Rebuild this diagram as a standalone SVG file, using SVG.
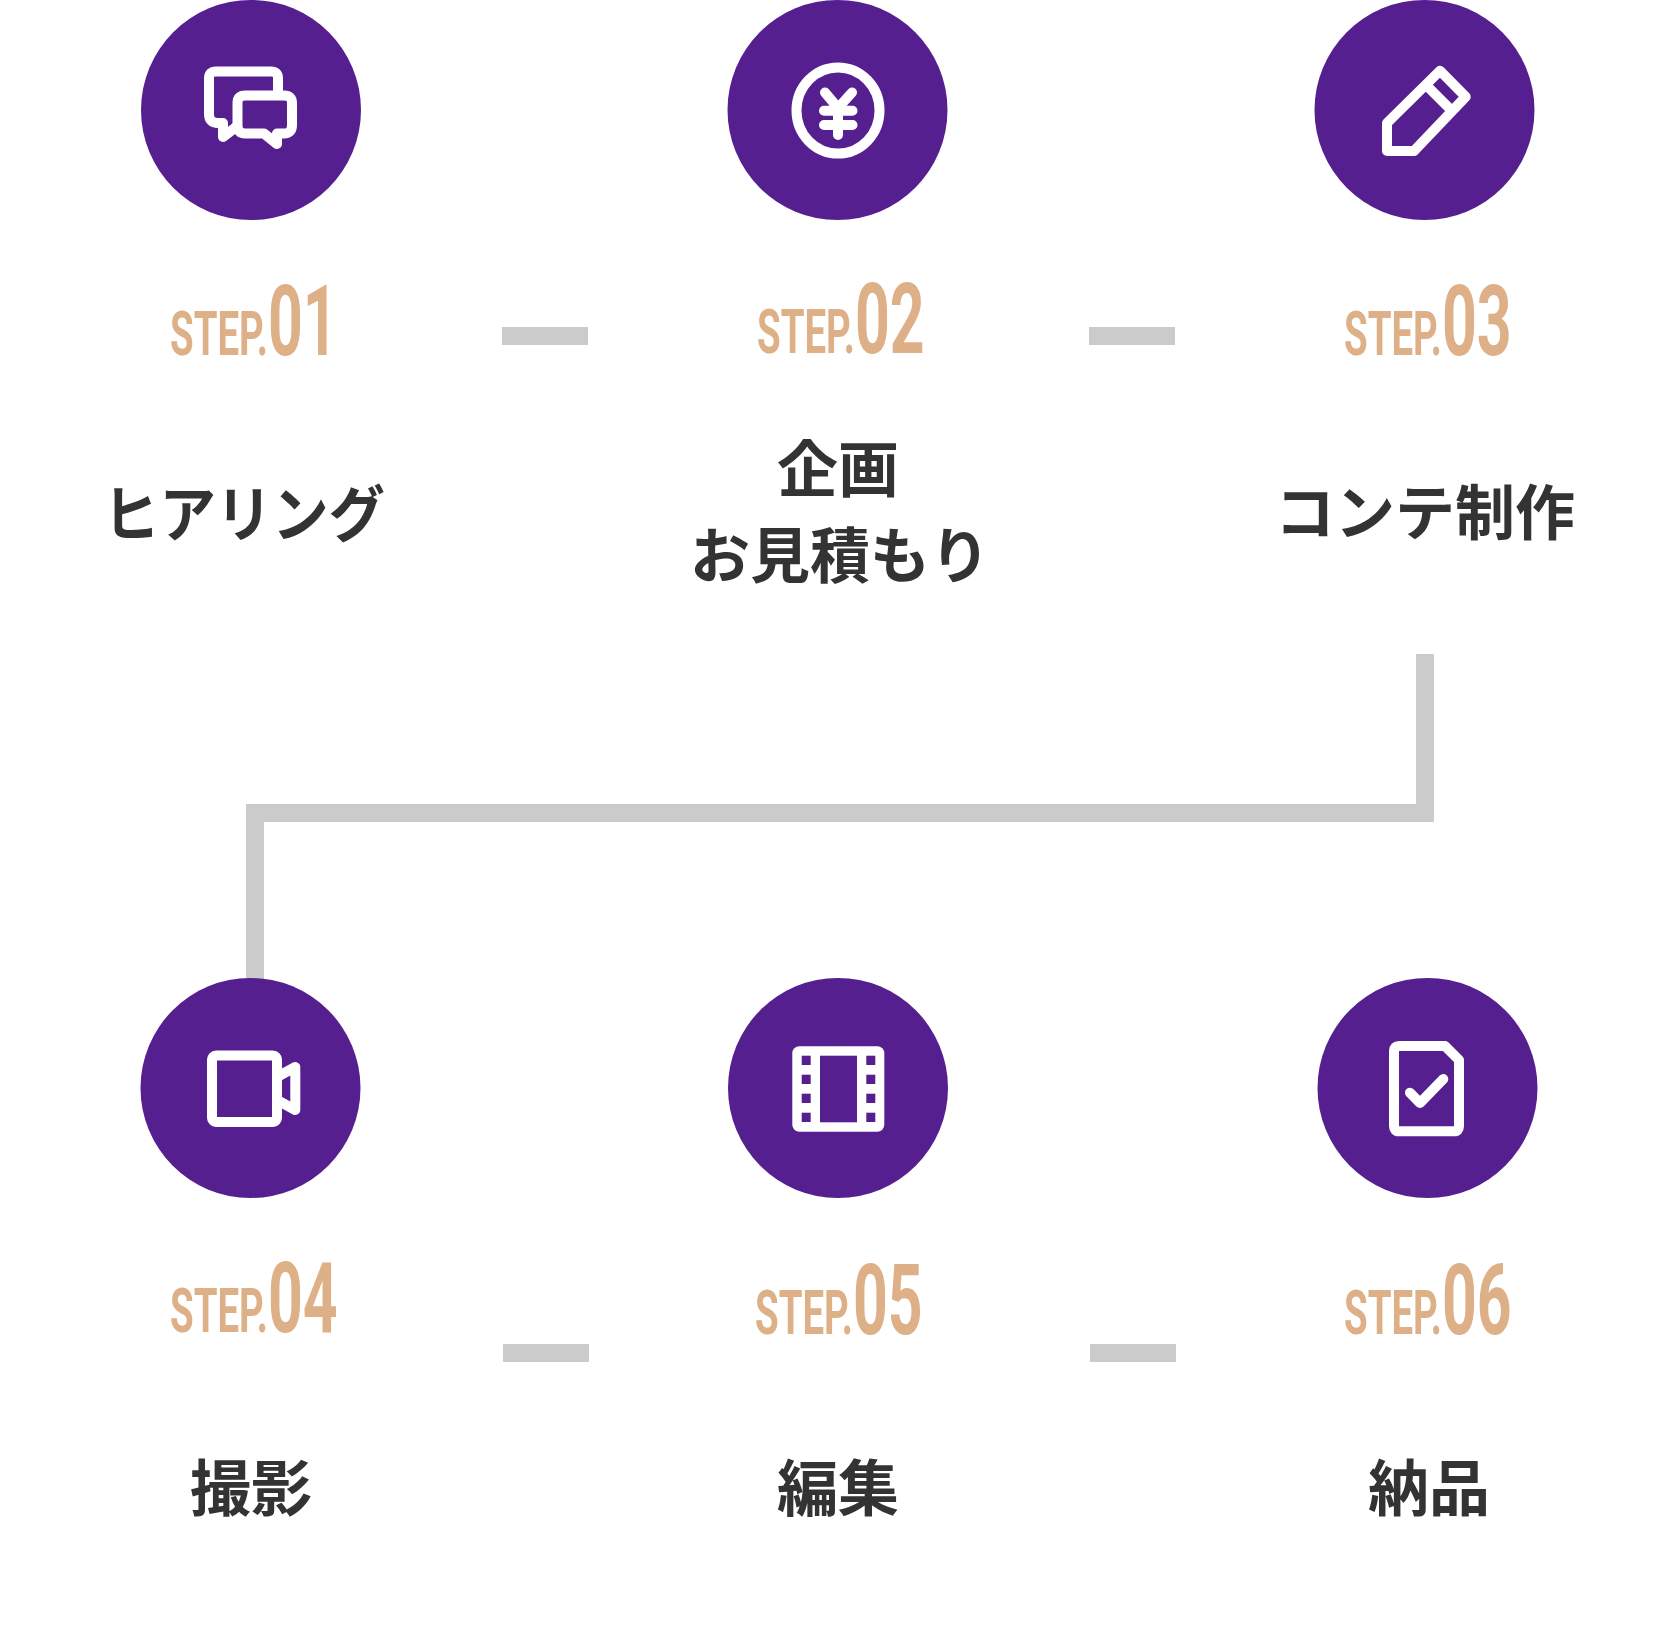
<svg xmlns="http://www.w3.org/2000/svg" width="1678" height="1632" viewBox="0 0 1678 1632">
<style>
.disc{fill:#561f8f}
.ic{fill:none;stroke:#fff;stroke-width:10;stroke-linejoin:round;stroke-linecap:round}
.hole{fill:#561f8f}
.st{font-family:Roboto,"Liberation Sans",sans-serif;font-weight:700;font-size:62px;fill:#deb088}
.num{font-size:98px}
.lb{font-family:"Noto Sans CJK JP",sans-serif;font-weight:700;font-size:61px;fill:#333;text-anchor:middle}
.lk{font-size:60px}
.cn{fill:#cbcbcb}
</style>
<rect width="1678" height="1632" fill="#fff"/>
<g id="connectors">
<rect class="cn" x="502" y="327" width="86" height="18"/>
<rect class="cn" x="1089" y="327" width="86" height="18"/>
<path class="cn" d="M1416 654H1434V822H264V980H246V804H1416Z"/>
<rect class="cn" x="503" y="1344" width="86" height="18"/>
<rect class="cn" x="1090" y="1344" width="86" height="18"/>
</g>
<g id="step1">
<circle class="disc" cx="251" cy="110" r="110"/>
<path class="ic" d="M278 90V78Q278 71.500 271 71.500H216Q209 71.500 209 78V114Q209 123 218 123H223V137L236 127"/>
<path class="ic" d="M245 95.500H284Q292 95.500 292 103V125Q292 133.500 284 133.500H277V144L264 133.500H245Q237.500 133.500 237.500 125V103Q237.500 95.500 245 95.500Z"/>
<text class="st" transform="translate(170,355) scale(.62,1)">STEP.<tspan class="num">01</tspan></text>
<text class="lb" x="244" y="537" textLength="282" lengthAdjust="spacingAndGlyphs">ヒアリング</text>
</g>
<g id="step2">
<circle class="disc" cx="837.500" cy="110" r="110"/>
<ellipse class="ic" cx="838" cy="110.500" rx="41.500" ry="43"/>
<path class="ic" d="M825 92.500L838 108L852 92.500M824 110.700H852.500M824 125H852.500M838 108V135"/>
<text class="st" transform="translate(757,353) scale(.62,1)">STEP.<tspan class="num">02</tspan></text>
<text class="lb" x="838" y="492">企画</text>
<text class="lb lk" x="840" y="578">お見積もり</text>
</g>
<g id="step3">
<circle class="disc" cx="1424.500" cy="110" r="110"/>
<path class="ic" d="M1387 123L1440 70.700L1465.700 96.700L1414 151H1387ZM1428.300 87.300L1449.300 108.300"/>
<text class="st" transform="translate(1344,355) scale(.62,1)">STEP.<tspan class="num">03</tspan></text>
<text class="lb lk" x="1425" y="535">コンテ制作</text>
</g>
<g id="step4">
<circle class="disc" cx="250.500" cy="1088" r="110"/>
<rect class="ic" x="212" y="1055.500" width="65" height="66.500" rx="4"/>
<path class="ic" d="M277 1077L295.300 1067V1110L277 1100"/>
<text class="st" transform="translate(170,1332) scale(.62,1)">STEP.<tspan class="num">04</tspan></text>
<text class="lb" x="251" y="1511">撮影</text>
</g>
<g id="step5">
<circle class="disc" cx="838" cy="1088" r="110"/>
<rect x="792.300" y="1046.300" width="92" height="85.400" rx="7" fill="#fff"/>
<rect class="hole" x="820" y="1055.700" width="37" height="66.600"/>
<rect class="hole" x="801.700" y="1055.700" width="9" height="9.300"/>
<rect class="hole" x="801.700" y="1074.700" width="9" height="9.300"/>
<rect class="hole" x="801.700" y="1093.700" width="9" height="9.300"/>
<rect class="hole" x="801.700" y="1112.700" width="9" height="9.300"/>
<rect class="hole" x="866.300" y="1055.700" width="9" height="9.300"/>
<rect class="hole" x="866.300" y="1074.700" width="9" height="9.300"/>
<rect class="hole" x="866.300" y="1093.700" width="9" height="9.300"/>
<rect class="hole" x="866.300" y="1112.700" width="9" height="9.300"/>
<text class="st" transform="translate(755,1334) scale(.62,1)">STEP.<tspan class="num">05</tspan></text>
<text class="lb" x="838" y="1511">編集</text>
</g>
<g id="step6">
<circle class="disc" cx="1427.500" cy="1088" r="110"/>
<path class="ic" d="M1399 1046H1445L1459 1060V1126Q1459 1131.300 1454 1131.300H1399Q1394 1131.300 1394 1126V1051Q1394 1046 1399 1046Z"/>
<path class="ic" d="M1410 1092.700L1420 1103L1443.300 1079"/>
<text class="st" transform="translate(1344,1334) scale(.62,1)">STEP.<tspan class="num">06</tspan></text>
<text class="lb" x="1429" y="1511">納品</text>
</g>
</svg>
